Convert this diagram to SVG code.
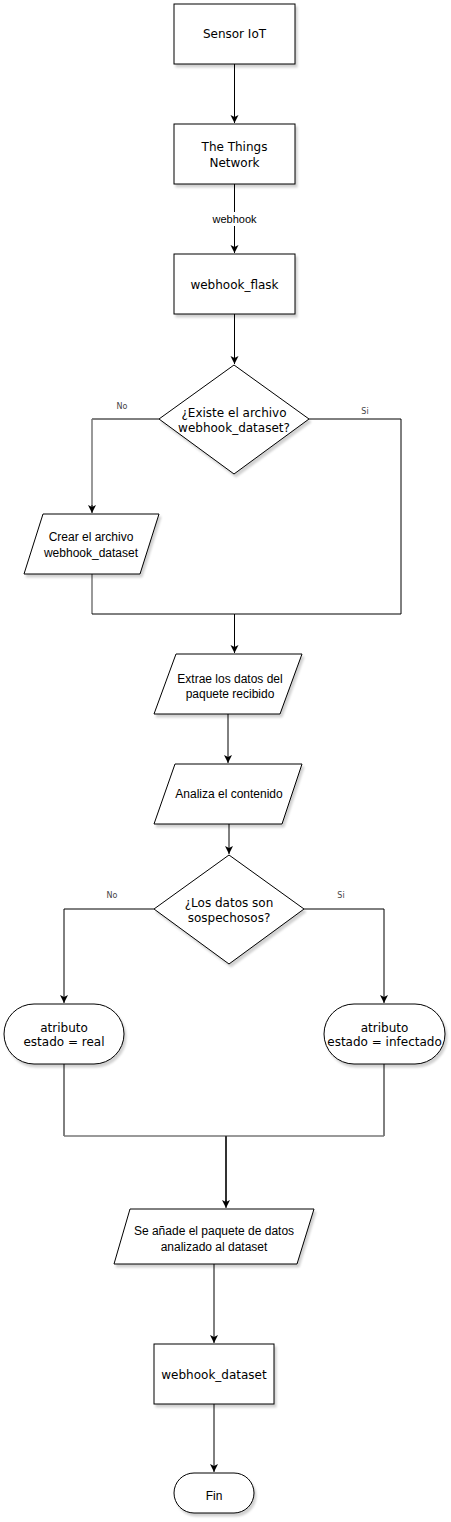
<svg xmlns="http://www.w3.org/2000/svg" width="451" height="1522" viewBox="0 0 451 1522">
<style>
.s{fill:#fff;stroke:#000;stroke-width:1;filter:url(#sh)}
.v{font-family:"DejaVu Sans",Verdana,sans-serif;font-size:12px;fill:#000;text-anchor:middle}
.a{font-family:"Liberation Sans",Arial,sans-serif;font-size:12px;fill:#000;text-anchor:middle}
.lb{font-family:"DejaVu Sans",Verdana,sans-serif;font-size:8px;fill:#444;text-anchor:middle}
.c{fill:none;stroke:#000;stroke-width:1}
.g{fill:none;stroke:#777;stroke-width:1.5}
</style>
<defs>
<filter id="sh" x="-10%" y="-10%" width="130%" height="130%">
<feDropShadow dx="2" dy="3" stdDeviation="1.2" flood-color="#000" flood-opacity="0.18"/>
</filter>
<marker id="ar" markerUnits="userSpaceOnUse" markerWidth="10" markerHeight="10" refX="8" refY="4" orient="auto">
<path d="M0,0 L8,4 L0,8 L2,4 z" fill="#000"/>
</marker>
</defs>
<g id="connectors">
<path class="c" d="M234.5,64 V123" marker-end="url(#ar)"/>
<path class="c" d="M234.5,184 V253" marker-end="url(#ar)"/>
<rect x="212" y="212" width="45" height="14" fill="#fff"/>
<text x="234.5" y="223" font-family="Liberation Sans,Arial,sans-serif" font-size="11" text-anchor="middle">webhook</text>
<path class="c" d="M234.5,314 V364" marker-end="url(#ar)"/>
<path class="c" d="M159,419 H92"/>
<path class="g" d="M92,419 V507"/>
<path class="c" d="M92,505 V513" marker-end="url(#ar)"/>
<text class="lb" x="122" y="409">No</text>
<path class="c" d="M309,419 H401 V614 H234.5"/>
<text class="lb" x="365" y="414">Si</text>
<path class="g" d="M92,574 V614"/>
<path class="c" d="M92,614 H234.5"/>
<path class="c" d="M234.5,614 V653" marker-end="url(#ar)"/>
<path class="c" d="M228,714 V763" marker-end="url(#ar)"/>
<path class="c" d="M229,824 V854" marker-end="url(#ar)"/>
<path class="c" d="M154,909 H64 V1003" marker-end="url(#ar)"/>
<text class="lb" x="112" y="898">No</text>
<path class="c" d="M304,909 H384 V1003" marker-end="url(#ar)"/>
<text class="lb" x="341" y="898">Si</text>
<path class="c" d="M64,1064 V1136"/>
<path class="c" d="M384,1064 V1136"/>
<path class="g" d="M64,1136 H384"/>
<path d="M226,1136 V1202" fill="none" stroke="#333" stroke-width="2"/>
<path class="c" d="M226,1200 V1208" marker-end="url(#ar)"/>
<path class="c" d="M214,1264 V1343" marker-end="url(#ar)"/>
<path class="c" d="M214,1404 V1472" marker-end="url(#ar)"/>
</g>
<g id="sensor">
<rect class="s" x="174" y="4" width="121" height="60"/>
<text class="v" x="234.5" y="38">Sensor IoT</text>
</g>
<g id="ttn">
<rect class="s" x="174" y="124" width="121" height="60"/>
<text class="v" x="234.5" y="151">The Things</text>
<text class="v" x="234.5" y="167">Network</text>
</g>
<g id="flask">
<rect class="s" x="174" y="254" width="121" height="60"/>
<text class="v" x="234.5" y="289">webhook_flask</text>
</g>
<g id="dec1">
<polygon class="s" points="234,365 309,419 234,474 159,419"/>
<text class="v" x="234" y="417">¿Existe el archivo</text>
<text class="v" x="234" y="432">webhook_dataset?</text>
</g>
<g id="crear">
<polygon class="s" points="43,514 159,514 140,574 24,574"/>
<text class="a" x="91" y="541">Crear el archivo</text>
<text class="a" x="91" y="557">webhook_dataset</text>
</g>
<g id="extrae">
<polygon class="s" points="176,654 302,654 280,714 154,714"/>
<text class="a" x="230" y="683">Extrae los datos del</text>
<text class="a" x="230" y="698">paquete recibido</text>
</g>
<g id="analiza">
<polygon class="s" points="175,764 302,764 282,824 154,824"/>
<text class="a" x="229" y="798">Analiza el contenido</text>
</g>
<g id="dec2">
<polygon class="s" points="229,855 304,909 229,964 154,909"/>
<text class="v" x="229" y="907">¿Los datos son</text>
<text class="v" x="229" y="922">sospechosos?</text>
</g>
<g id="real">
<rect class="s" x="4" y="1004" width="120" height="60" rx="30" ry="30"/>
<text class="v" x="64" y="1032">atributo</text>
<text class="v" x="64" y="1046">estado = real</text>
</g>
<g id="infectado">
<rect class="s" x="324" y="1004" width="121" height="60" rx="30" ry="30"/>
<text class="v" x="384.5" y="1032">atributo</text>
<text class="v" x="384.5" y="1046">estado = infectado</text>
</g>
<g id="anade">
<polygon class="s" points="130,1209 314,1209 297,1264 114,1264"/>
<text class="a" x="214" y="1235">Se añade el paquete de datos</text>
<text class="a" x="214" y="1251">analizado al dataset</text>
</g>
<g id="dataset">
<rect class="s" x="154" y="1344" width="120" height="60"/>
<text class="v" x="214" y="1379">webhook_dataset</text>
</g>
<g id="fin">
<rect class="s" x="174" y="1473" width="80" height="40" rx="20" ry="20"/>
<text class="a" x="214" y="1500" font-size="11">Fin</text>
</g>
</svg>
